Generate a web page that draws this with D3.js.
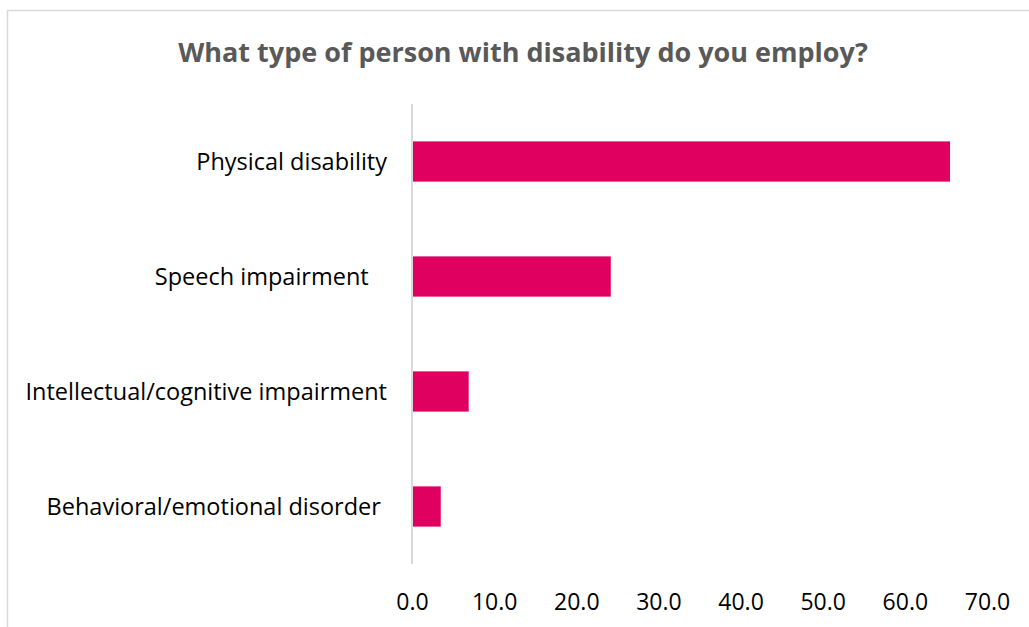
<!DOCTYPE html>
<html>
<head>
<meta charset="utf-8">
<script src="https://cdn.jsdelivr.net/npm/d3@7"></script>
<style>
  body { margin: 0; background: #fff; }
  svg text { font-family: "Open Sans", Lato, sans-serif; }
</style>
</head>
<body>
<div id="chart"></div>
<script>
// chart data
const categories = ["Physical disability", "Speech impairment   ", "Intellectual/cognitive impairment", "Behavioral/emotional disorder "];
const values = [65.5, 24.2, 6.9, 3.5];
const tickValues = [0, 10, 20, 30, 40, 50, 60, 70];

const title = "What type of person with disability do you employ?";

function drawChart()
{
    var width = 1029;
    var height = 627;

    var margin = {top: 104, right: 42, bottom: 63, left: 412};

    var barColor = "#e0005f";
    var gridColor = "#d9d9d9";

    var svg = d3.select("#chart")
        .append("svg")
        .attr("width", width)
        .attr("height", height);

    // outer chart frame (runs off the right and bottom edge)
    svg.append("rect")
        .attr("x", 7.5)
        .attr("y", 10.5)
        .attr("width", width + 20)
        .attr("height", height + 20)
        .style("fill", "none")
        .style("stroke", gridColor)
        .style("stroke-width", 1.5);

    // title
    svg.append("text")
        .attr("x", 523)
        .attr("y", 62)
        .attr("text-anchor", "middle")
        .style("font-size", "27px")
        .style("font-weight", "bold")
        .style("fill", "#595959")
        .text(title);

    var x = d3.scaleLinear()
        .domain([0, 70])
        .range([margin.left, width - margin.right]);

    var y = d3.scaleBand()
        .domain(categories)
        .range([margin.top, height - margin.bottom])
        .paddingInner(0.65)
        .paddingOuter(0.325);

    // bars
    svg.selectAll("rect.bar")
        .data(values)
        .enter()
        .append("rect")
        .attr("class", "bar")
        .attr("x", x(0))
        .attr("y", function(d, i) { return y(categories[i]); })
        .attr("width", function(d) { return x(d) - x(0); })
        .attr("height", y.bandwidth())
        .style("fill", barColor);

    // category axis (just the line and the labels)
    svg.append("line")
        .attr("x1", x(0))
        .attr("x2", x(0))
        .attr("y1", margin.top)
        .attr("y2", height - margin.bottom)
        .style("stroke", gridColor)
        .style("stroke-width", 2);

    svg.selectAll("text.cat")
        .data(categories)
        .enter()
        .append("text")
        .attr("class", "cat")
        .attr("x", x(0) - 25)
        .attr("y", function(d) { return y(d) + y.bandwidth() / 2; })
        .attr("dy", "0.35em")
        .attr("text-anchor", "end")
        .style("white-space", "pre")
        .style("font-size", "23.5px")
        .style("fill", "#000")
        .text(function(d) { return d; });

    // value axis labels
    var xAxis = d3.axisBottom(x)
        .tickValues(tickValues)
        .tickSize(0)
        .tickPadding(0)
        .tickFormat(d3.format(".1f"));

    var gx = svg.append("g")
        .attr("transform", "translate(0," + (height - margin.bottom + 30) + ")")
        .call(xAxis);

    gx.select(".domain").remove();
    gx.selectAll("text")
        .style("font-family", "'Open Sans', Lato, sans-serif")
        .style("font-size", "23px")
        .style("fill", "#000");
}

drawChart();
</script>
</body>
</html>
